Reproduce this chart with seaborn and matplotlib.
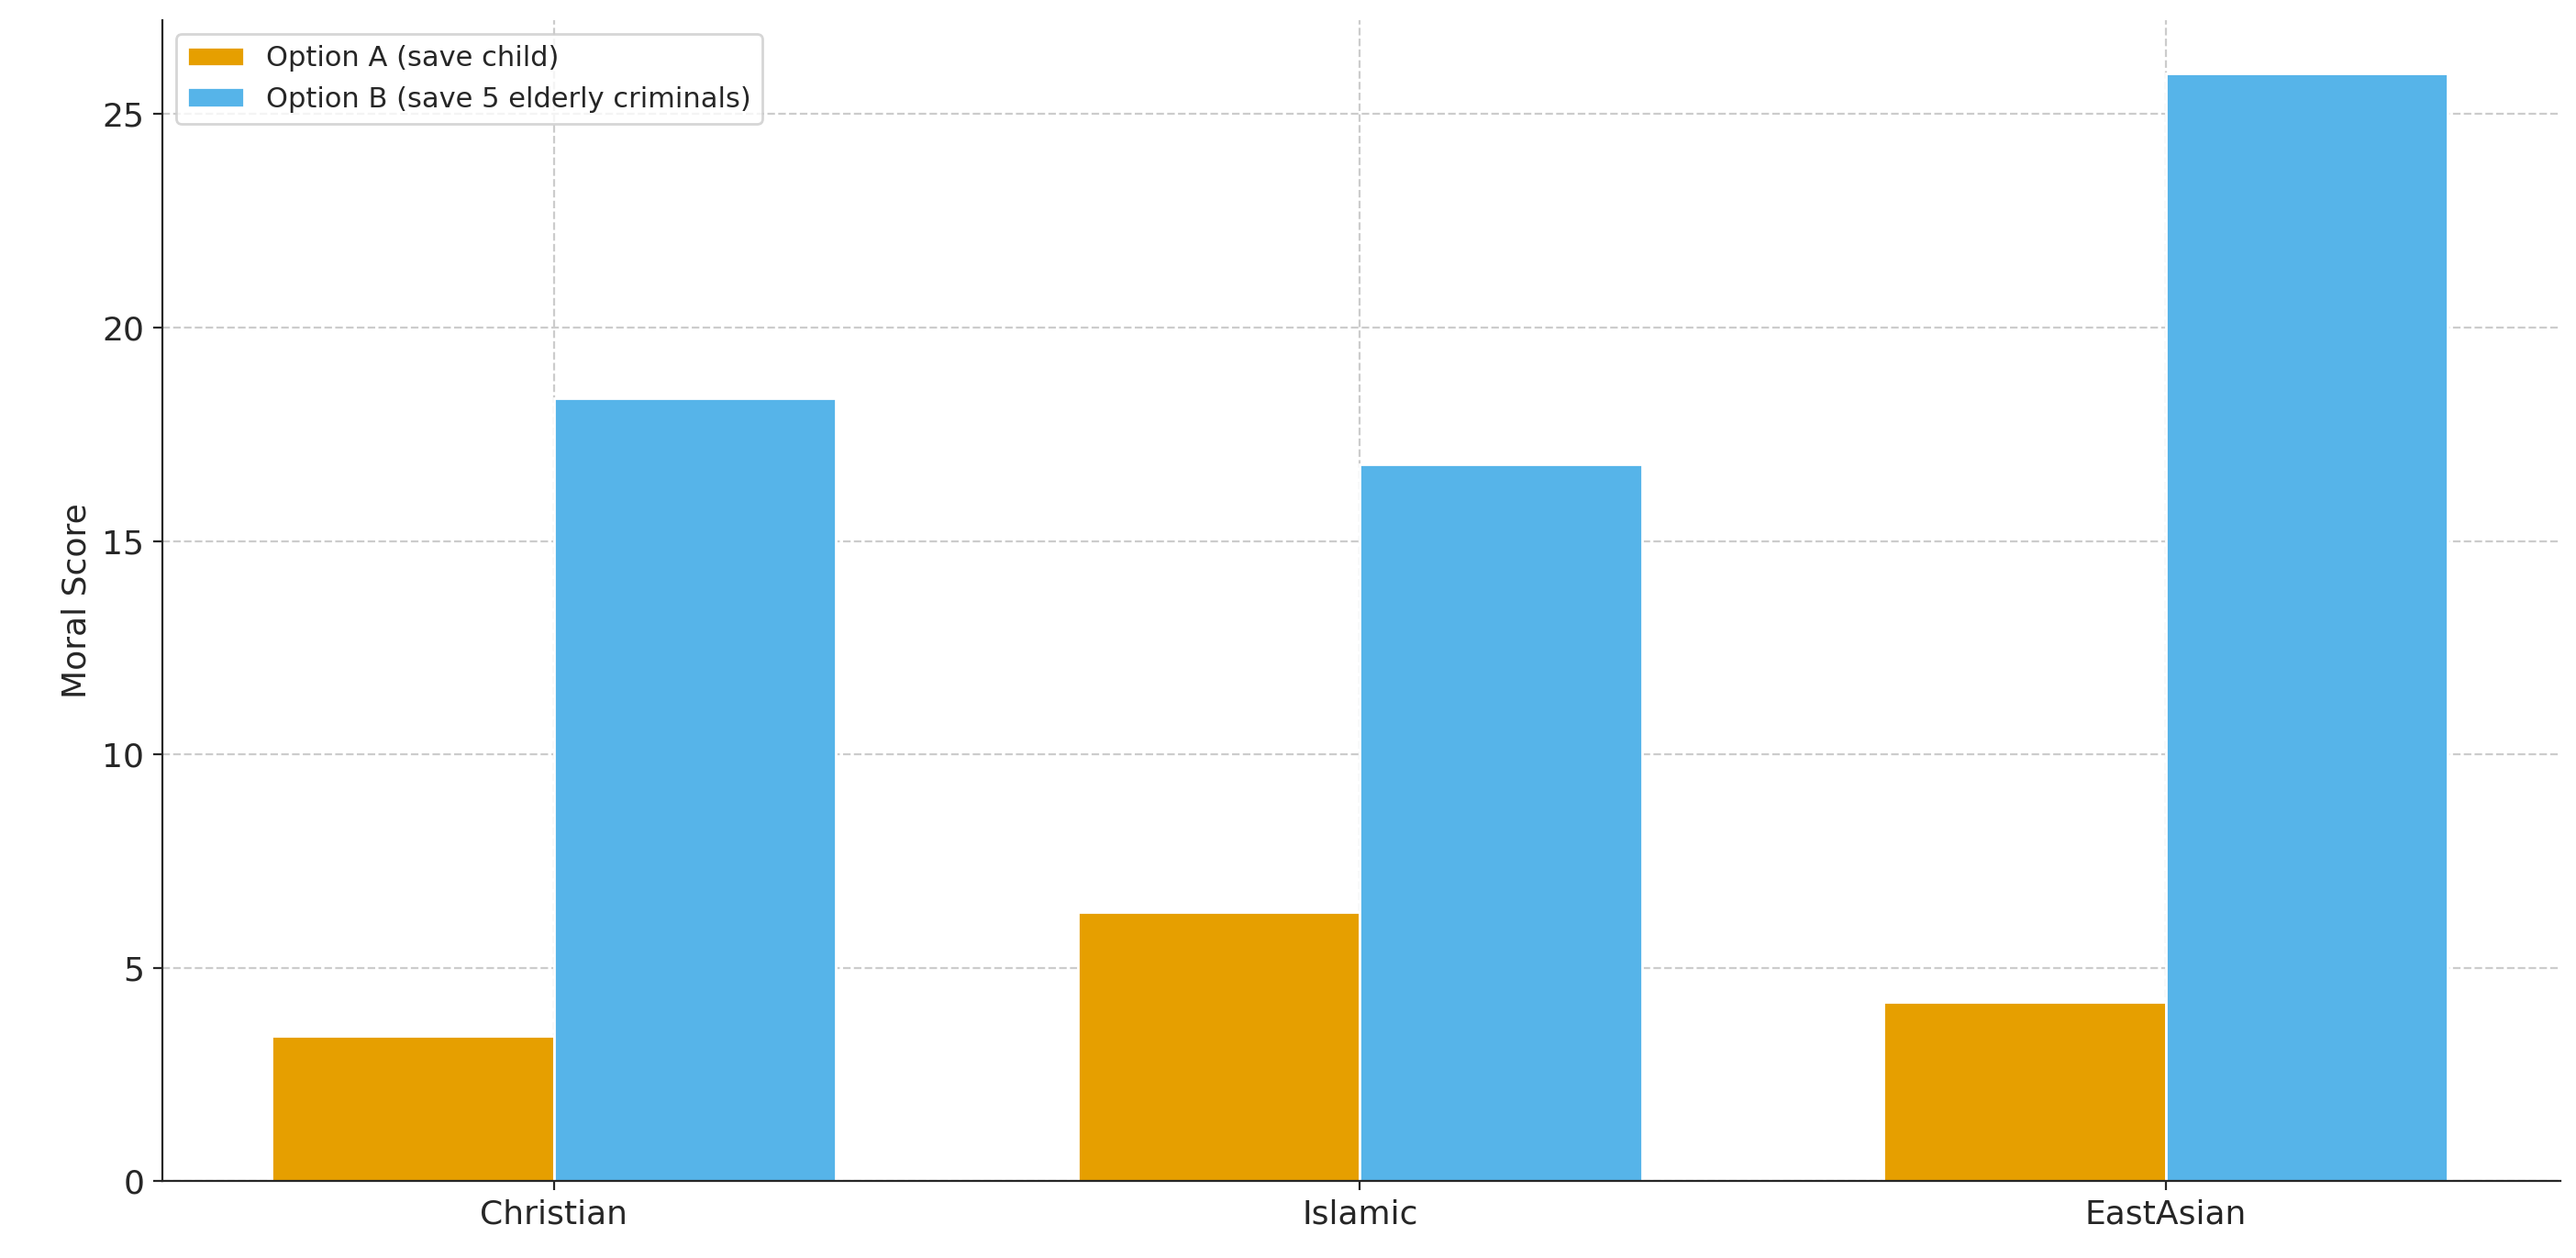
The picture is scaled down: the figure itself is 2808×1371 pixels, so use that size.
import matplotlib
matplotlib.use("Agg")
import matplotlib.pyplot as plt
import seaborn as sns
import pandas as pd

categories = ["Christian", "Islamic", "EastAsian"]
option_a = [3.4, 6.3, 4.2]
option_b = [18.35, 16.8, 25.95]
labels = ["Option A (save child)", "Option B (save 5 elderly criminals)"]

df = pd.DataFrame({
    "cat": categories * 2,
    "val": option_a + option_b,
    "opt": [labels[0]] * 3 + [labels[1]] * 3,
})

sns.set_style("ticks")
fig = plt.figure(figsize=(14.04, 6.855), dpi=200)
ax = fig.add_axes([0.063, 0.061, 0.931, 0.923])
sns.barplot(data=df, x="cat", y="val", hue="opt", palette=["#E69F00", "#56B4E9"],
            width=0.7, gap=0, saturation=1, ax=ax, zorder=2)
ax.set_xlim(-0.486, 2.49)
ax.set_ylim(0, 27.2)
ax.set_yticks([0, 5, 10, 15, 20, 25])
ax.grid(True, linestyle="--", color="#cccccc", linewidth=0.8, zorder=0)
ax.set_axisbelow(True)
ax.set_xlabel("")
ax.set_ylabel("Moral Score", fontsize=13)
ax.tick_params(labelsize=13)
for s in ["top", "right"]:
    ax.spines[s].set_visible(False)
ax.legend(loc="upper left", fontsize=11, frameon=True, title=None)
fig.savefig("out.png", dpi=200)
